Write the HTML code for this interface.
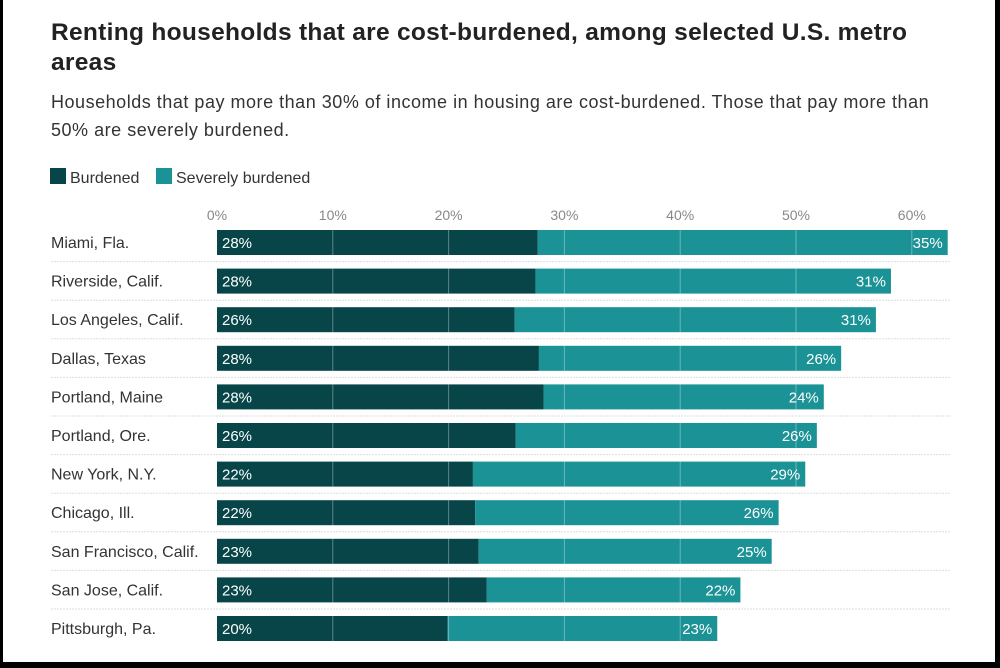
<!DOCTYPE html>
<html><head><meta charset="utf-8"><style>
body{margin:0;background:#000;}
#wrap{position:absolute;left:3px;top:0;width:992px;height:662px;background:#fff;font-family:"Liberation Sans",sans-serif;}
h1{position:absolute;left:48px;top:18px;margin:0;font-size:24.5px;line-height:30px;font-weight:bold;color:#222;width:890px;letter-spacing:0.3px;}
p{position:absolute;left:48px;top:88px;margin:0;font-size:18px;line-height:28px;color:#333;width:900px;letter-spacing:0.52px;}
</style></head><body>
<div id="wrap">
<h1>Renting households that are cost-burdened, among selected U.S. metro areas</h1>
<p>Households that pay more than 30% of income in housing are cost-burdened. Those that pay more than 50% are severely burdened.</p>
<svg id="svg" width="992" height="662" style="position:absolute;left:0;top:0">
<g>
<rect x="47" y="168" width="16" height="16" fill="#074549"/>
<text x="67" y="183" font-size="16" fill="#333">Burdened</text>
<rect x="153" y="168" width="16" height="16" fill="#1a9296"/>
<text x="173" y="183" font-size="16" fill="#333">Severely burdened</text>
</g>
</svg>
</div>
<script>
const cities=["Miami, Fla.","Riverside, Calif.","Los Angeles, Calif.","Dallas, Texas","Portland, Maine","Portland, Ore.","New York, N.Y.","Chicago, Ill.","San Francisco, Calif.","San Jose, Calif.","Pittsburgh, Pa."];
const burdened=[27.7,27.5,25.7,27.8,28.2,25.8,22.1,22.3,22.6,23.3,19.9];
const severe=[35.4,30.7,31.2,26.1,24.2,26.0,28.7,26.2,25.3,21.9,23.3];
const ticks=[0,10,20,30,40,50,60];
const svg=document.getElementById('svg');
const NS='http://www.w3.org/2000/svg';
const x=v=>214+v*11.58;
const y=i=>230+i*38.6;
const BH=25;
function mk(t,a,p){const e=document.createElementNS(NS,t);for(const k in a)e.setAttribute(k,a[k]);(p||svg).appendChild(e);return e;}
ticks.forEach(t=>{const e=mk('text',{x:x(t),y:220,'text-anchor':'middle','font-size':14,fill:'#888'});e.textContent=t+'%';

});
cities.forEach((c,i)=>{
 if(i>0){const l=mk('line',{x1:48,x2:948,y1:y(i)-7,y2:y(i)-7,stroke:'#ddd','stroke-dasharray':'2,1'});
 
 }
 const lb=mk('text',{x:48,y:y(i)+18,'font-size':16,fill:'#333'});lb.textContent=c;
 
 
 const b1=mk('rect',{x:x(0),y:y(i),width:x(burdened[i])-x(0),height:BH,fill:'#074549'});
 
 
 const b2=mk('rect',{x:x(burdened[i]),y:y(i),width:x(burdened[i]+severe[i])-x(burdened[i]),height:BH,fill:'#1a9296'});
 
 
});
ticks.slice(1).forEach(t=>{cities.forEach((c,i)=>{if(burdened[i]+severe[i]>t){const g=mk('line',{x1:x(t),x2:x(t),y1:y(i),y2:y(i)+BH,stroke:'rgba(255,255,255,0.35)','stroke-width':1});
 
 }});});
cities.forEach((c,i)=>{
 const t1=mk('text',{x:x(0)+5,y:y(i)+18,'font-size':15,fill:'#fff'});t1.textContent=Math.round(burdened[i])+'%';
 
 
 const t2=mk('text',{x:x(burdened[i]+severe[i])-5,y:y(i)+18,'font-size':15,fill:'#fff','text-anchor':'end'});t2.textContent=Math.round(severe[i])+'%';
 
 
});
</script>
</body></html>
